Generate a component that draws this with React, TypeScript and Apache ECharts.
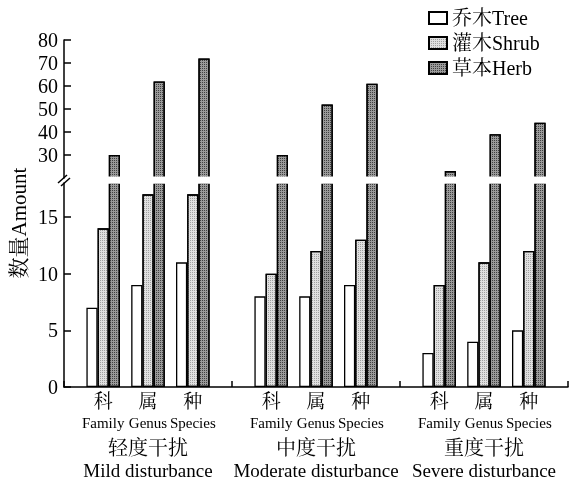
import React, { useEffect, useRef } from "react";
import * as echarts from "echarts";

const groupsCN = ["轻度干扰", "中度干扰", "重度干扰"];
const groupsEN = ["Mild disturbance", "Moderate disturbance", "Severe disturbance"];
const levelsCN = ["科", "属", "种"];
const levelsEN = ["Family", "Genus", "Species"];
const seriesNames = ["乔木Tree", "灌木Shrub", "草本Herb"];
const treeValues = [7, 9, 11, 8, 8, 9, 3, 4, 5];
const shrubValues = [14, 17, 17, 10, 12, 13, 9, 11, 12];
const herbValues = [30, 62, 72, 30, 52, 61, 23, 39, 44];
const upperTicks = [30, 40, 50, 60, 70, 80];
const lowerTicks = [0, 5, 10, 15];

const FONT = "'Times New Roman', 'Liberation Serif', 'Noto Serif CJK SC', 'Noto Sans CJK SC', serif";

// slot layout: 2 lead slots, clusters of 3 bars, 1 gap between clusters, 4 between groups, 2 trailing
const SLOT_COUNT = 45;
const slotIndex = (g: number, c: number, s: number) => 2 + g * 15 + c * 4 + s;
const slotNames = Array.from({ length: SLOT_COUNT }, (_, i) => "slot" + i);
const slotLabels: string[] = Array(SLOT_COUNT).fill("");
for (let g = 0; g < 3; g++)
  for (let c = 0; c < 3; c++)
    slotLabels[slotIndex(g, c, 1)] = `{cn|${levelsCN[c]}}\n{en|${levelsEN[c]}}`;

function slotData(values: number[], s: number) {
  const arr: any[] = Array(SLOT_COUNT).fill("-");
  values.forEach((v, k) => {
    arr[slotIndex(Math.floor(k / 3), k % 3, s)] = v;
  });
  return arr;
}

const styles = [
  { color: "#ffffff", borderColor: "#000", borderWidth: 1.3 },
  {
    color: "#e0e0e0",
    borderColor: "#000",
    borderWidth: 1.3,
    decal: { symbol: "rect", symbolSize: 1, dashArrayX: [1, 1], dashArrayY: [1, 1], color: "#a0a0a0", rotation: 0 },
  },
  {
    color: "#9a9a9a",
    borderColor: "#000",
    borderWidth: 1.3,
    decal: { symbol: "rect", symbolSize: 1, dashArrayX: [1, 1], dashArrayY: [1, 1], color: "#404040", rotation: 0 },
  },
];

export default function App() {
  const ref = useRef<HTMLDivElement>(null);
  useEffect(() => {
    const chart = echarts.init(ref.current!, null, { renderer: "svg" });
    const axisLine = { show: true, lineStyle: { color: "#000", width: 1.5 } };
    const yLabel = { color: "#000", fontFamily: FONT, fontSize: 20, margin: 6 };
    chart.setOption({
      animation: false,
      textStyle: { fontFamily: FONT },
      grid: [
        { left: 64, right: 5, top: 40, height: 138 },
        { left: 64, right: 5, top: 183, height: 204 },
      ],
      legend: {
        orient: "vertical",
        left: 428,
        top: 8,
        padding: 0,
        itemWidth: 18,
        itemHeight: 12,
        itemGap: 5,
        icon: "rect",
        data: seriesNames,
        textStyle: { fontFamily: FONT, fontSize: 20, color: "#000", lineHeight: 20 },
      },
      xAxis: [
        { gridIndex: 0, type: "category", data: slotNames, show: false },
        {
          gridIndex: 1,
          type: "category",
          data: slotNames,
          axisLine,
          axisTick: { show: false },
          axisLabel: {
            interval: 0,
            margin: 3,
            formatter: (_v: string, i: number) => slotLabels[i],
            rich: {
              cn: { fontFamily: FONT, fontSize: 19, color: "#000", lineHeight: 22 },
              en: { fontFamily: FONT, fontSize: 15, color: "#000", lineHeight: 22 },
            },
          },
        },
        {
          gridIndex: 1,
          type: "category",
          position: "bottom",
          data: groupsCN,
          axisLine: { show: false },
          axisTick: { show: true, inside: true, length: 6, lineStyle: { color: "#000", width: 1.5 } },
          axisLabel: {
            interval: 0,
            margin: 49,
            formatter: (_v: string, i: number) => `{cn|${groupsCN[i]}}\n{en|${groupsEN[i]}}`,
            rich: {
              cn: { fontFamily: FONT, fontSize: 20, color: "#000", lineHeight: 23 },
              en: { fontFamily: FONT, fontSize: 19, color: "#000", lineHeight: 23 },
            },
          },
        },
      ],
      yAxis: [
        {
          gridIndex: 0,
          type: "value",
          min: 20,
          max: 80,
          interval: 10,
          splitLine: { show: false },
          axisLine,
          axisTick: { show: true, inside: true, length: 7, customValues: upperTicks, lineStyle: { color: "#000", width: 1.5 } },
          axisLabel: { ...yLabel, customValues: upperTicks },
        },
        {
          gridIndex: 1,
          type: "value",
          min: 0,
          max: 18,
          interval: 5,
          splitLine: { show: false },
          axisLine,
          axisTick: { show: true, inside: true, length: 7, customValues: lowerTicks, lineStyle: { color: "#000", width: 1.5 } },
          axisLabel: { ...yLabel, customValues: lowerTicks },
        },
      ],
      series: [
        {
          name: seriesNames[2],
          type: "bar",
          xAxisIndex: 0,
          yAxisIndex: 0,
          data: slotData(herbValues, 2),
          barWidth: "100%",
          clip: true,
          itemStyle: styles[2],
        },
        ...[treeValues, shrubValues, herbValues].map((vals, s) => ({
          name: seriesNames[s],
          type: "bar",
          xAxisIndex: 1,
          yAxisIndex: 1,
          data: slotData(vals, s),
          barWidth: "100%",
          barGap: "-100%",
          clip: true,
          itemStyle: styles[s],
        })),
      ],
      graphic: [
        {
          type: "text",
          x: 19,
          y: 223,
          rotation: Math.PI / 2,
          style: {
            text: "数量Amount",
            fontFamily: FONT,
            fontSize: 21,
            fill: "#000",
            align: "center",
            verticalAlign: "middle",
          },
        },
        {
          type: "rect",
          z: 100,
          shape: { x: 66, y: 176.5, width: 507, height: 7.3 },
          style: { fill: "#fff" },
        },
        { type: "line", z: 101, shape: { x1: 58, y1: 183, x2: 67, y2: 175 }, style: { stroke: "#000", lineWidth: 1.5 } },
        { type: "line", z: 101, shape: { x1: 61, y1: 186, x2: 70, y2: 178 }, style: { stroke: "#000", lineWidth: 1.5 } },
      ],
    });
    return () => chart.dispose();
  }, []);
  return <div ref={ref} style={{ position: "fixed", left: 0, top: 0, width: 573, height: 484 }} />;
}
